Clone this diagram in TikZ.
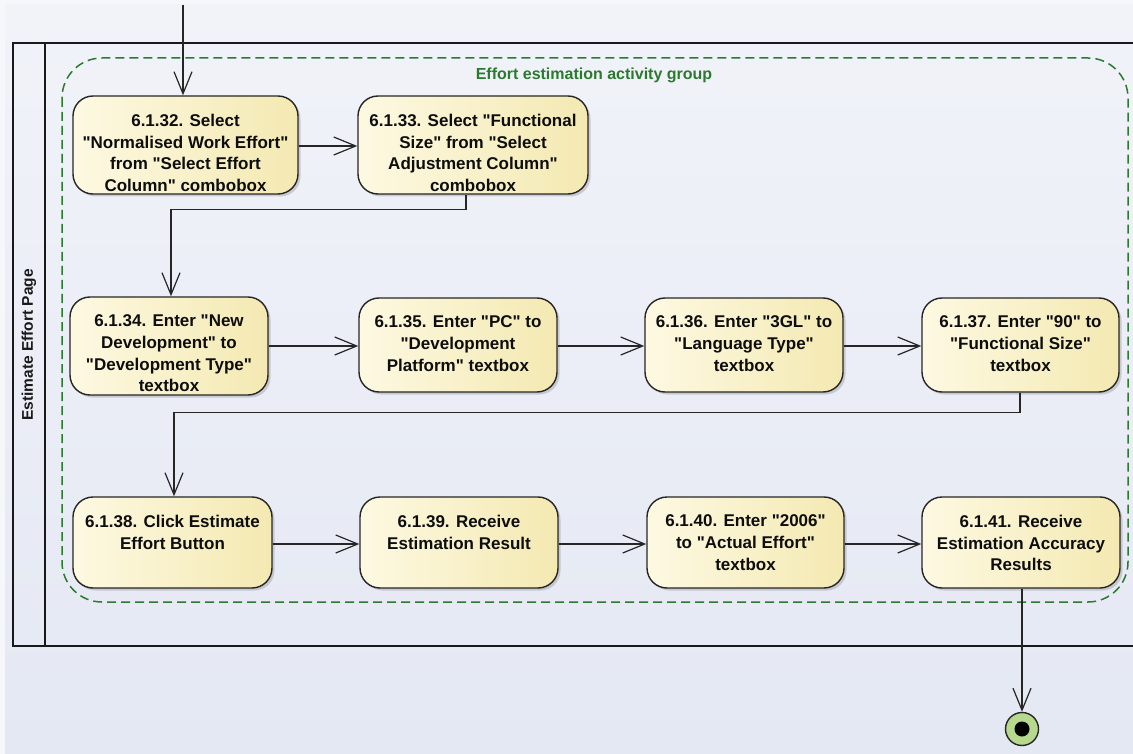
\documentclass[tikz,border=0pt]{standalone}
\usepackage{fontspec}
\setmainfont{Liberation Sans}[Ligatures=TeXOff]
\usetikzlibrary{arrows.meta,shadows,calc}

\definecolor{margin}{RGB}{246,247,251}
\definecolor{bgtop}{RGB}{241,243,249}
\definecolor{bgbot}{RGB}{228,232,243}
\definecolor{edge}{RGB}{38,38,38}
\definecolor{creamL}{RGB}{253,249,226}
\definecolor{creamR}{RGB}{244,233,178}
\definecolor{grpgreen}{RGB}{44,122,48}
\definecolor{finalgreen}{RGB}{182,217,141}

% text block of an action: fixed size, lines start at the top
\newcommand{\actlabel}[3]{\parbox[c][\dimexpr#2pt-36pt\relax][t]{\dimexpr#1pt-10pt\relax}{\centering #3}}

\tikzset{
  act/.style={draw=edge, line width=1.4pt, rounded corners=20pt,
    left color=creamL, right color=creamR,
    inner xsep=5pt, inner ysep=18pt,
    font=\fontsize{17}{21.7}\selectfont\bfseries, text=black!95,
    drop shadow={shadow xshift=2.5pt, shadow yshift=-2.5pt, opacity=0.22, fill=black!70}},
  flow/.style={draw=edge, line width=1.2pt,
    -{Straight Barb[length=22pt,width=18pt]}},
  lane/.style={draw=black!90, line width=1.8pt},
  group/.style={draw=grpgreen, line width=1.5pt, dash pattern=on 9pt off 5pt, rounded corners=40pt},
  finalnode/.style={circle, draw=edge, line width=1.4pt, fill=finalgreen,
    minimum size=33pt, inner sep=0pt,
    path picture={\fill[black] (path picture bounding box.center) circle (7.5pt);}}
}

\begin{document}
\begin{tikzpicture}[x=1pt,y=-1pt]
  \useasboundingbox (0,0) rectangle (1133,754);
  % background
  \fill[margin] (0,0) rectangle (1133,754);
  \shade[top color=bgtop, bottom color=bgbot] (5,5) rectangle (1133,754);

  % swimlane
  \draw[lane] (1133,43) -- (13,43) -- (13,646) -- (1133,646);
  \draw[lane] (45,43) -- (45,646);
  \node[rotate=90, font=\fontsize{15.5}{18}\selectfont\bfseries, text=black!90] (lanelabel) at (29,345) {Estimate Effort Page};

  % activity group
  \draw[group] (62,58) rectangle (1128,602);
  \node[font=\fontsize{16}{19}\selectfont\bfseries, text=grpgreen] (grouplabel) at (594,75) {Effort estimation activity group};

  % actions
  \node[act] (n32) at (185.5,145) {\actlabel{225}{98}{6.1.32. Select\\"Normalised Work Effort"\\from "Select Effort\\Column" combobox}};
  \node[act] (n33) at (473,145) {\actlabel{230}{98}{6.1.33. Select "Functional\\Size" from "Select\\Adjustment Column"\\combobox}};

  \node[act] (n34) at (169,346) {\actlabel{198}{98}{6.1.34. Enter "New\\Development" to\\"Development Type"\\textbox}};
  \node[act] (n35) at (458,345) {\actlabel{198}{94}{6.1.35. Enter "PC" to\\"Development\\Platform" textbox}};
  \node[act] (n36) at (744,345) {\actlabel{198}{94}{6.1.36. Enter "3GL" to\\"Language Type"\\textbox}};
  \node[act] (n37) at (1020.5,345) {\actlabel{197}{94}{6.1.37. Enter "90" to\\"Functional Size"\\textbox}};

  \node[act] (n38) at (172.5,542.5) {\actlabel{199}{91}{6.1.38. Click Estimate\\Effort Button}};
  \node[act] (n39) at (459,542.5) {\actlabel{198}{91}{6.1.39. Receive\\Estimation Result}};
  \node[act] (n40) at (745.5,542.5) {\actlabel{197}{91}{6.1.40. Enter "2006"\\to "Actual Effort"\\textbox}};
  \node[act] (n41) at (1021,542.5) {\actlabel{198}{91}{6.1.41. Receive\\Estimation Accuracy\\Results}};

  % final node
  \node[finalnode] (final) at (1022,729) {};

  % flows
  \coordinate (start) at (183,5);
  \draw[flow] (start) -- (start |- n32.north);
  \draw[flow] (n32.east |- 0,146) -- (n33.west |- 0,146);
  \draw[flow] ([xshift=-7pt]n33.south) -- ++(0,15) -| ([xshift=2pt]n34.north);
  \draw[flow] (n34.east |- 0,346) -- (n35.west |- 0,346);
  \draw[flow] (n35.east |- 0,346) -- (n36.west |- 0,346);
  \draw[flow] (n36.east |- 0,346) -- (n37.west |- 0,346);
  \draw[flow] ([xshift=-0.5pt]n37.south) -- ++(0,20) -| ([xshift=1.5pt]n38.north);
  \draw[flow] (n38.east |- 0,544) -- (n39.west |- 0,544);
  \draw[flow] (n39.east |- 0,544) -- (n40.west |- 0,544);
  \draw[flow] (n40.east |- 0,544) -- (n41.west |- 0,544);
  \draw[flow] (n41.south -| final) -- (final.north);
\end{tikzpicture}
\end{document}
